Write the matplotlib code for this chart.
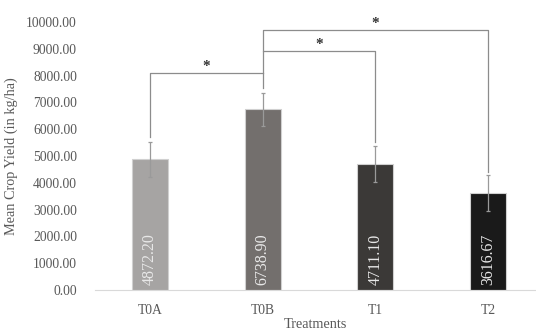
#!/usr/bin/env python

import matplotlib
matplotlib.use("Agg")
import matplotlib.pyplot as plt

treatments = ["T0A", "T0B", "T1", "T2"]
means = [4872.20, 6738.90, 4711.10, 3616.67]
errors = [665, 630, 665, 660]
colors = ["#a6a4a3", "#736f6d", "#3b3937", "#1a1a1a"]

# significance brackets: (left bar, right bar), height of bar line, leg ends
pairs = [(0, 1), (1, 2), (1, 3)]
bracket_y = [8100, 8920, 9720]
leg_bottom = [(5700, 8100), (7550, 5540), (8920, 4400)]

fontsize = 9.5
plt.rcParams["font.family"] = ["Liberation Serif", "DejaVu Serif"]

fig = plt.figure(figsize=(5.36, 3.29), dpi=100)
ax = fig.add_axes([95 / 536, 39 / 329, 441 / 536, (290 - 22) / 329])

x = list(range(len(treatments)))
ax.bar(x, means, width=0.32, color=colors, edgecolor="#d0d0d0", linewidth=0.8,
       zorder=2)
ax.errorbar(x, means, yerr=errors, fmt="none", ecolor="#9a9a9a",
            elinewidth=0.9, capsize=1.5, capthick=0.9, zorder=3)

for xi, m in zip(x, means):
    ax.text(xi, 180, "{:.2f}".format(m), rotation=90, ha="center", va="bottom",
            color="#e8e8e8", fontsize=fontsize + 2, zorder=4)

for (a, b), y, (la, lb) in zip(pairs, bracket_y, leg_bottom):
    ax.plot([a, a, b, b], [la, y, y, lb], color="#8c8c8c", linewidth=0.9,
            clip_on=False, zorder=1)
    ax.text((a + b) / 2, y - 20, "*", ha="center", va="bottom",
            fontsize=fontsize + 1.5, color="#333333", fontweight="bold")

ax.set_xlim(-0.488, 3.425)
ax.set_ylim(0, 10000)
ax.set_yticks(range(0, 10001, 1000))
ax.set_yticklabels(["{:.2f}".format(v) for v in range(0, 10001, 1000)])
ax.set_xticks(x)
ax.set_xticklabels(treatments)

for s in ["left", "right", "top"]:
    ax.spines[s].set_visible(False)
ax.spines["bottom"].set_color("#d9d9d9")
ax.tick_params(axis="both", length=0, labelsize=fontsize + 0.3, colors="#595959")
ax.tick_params(axis="y", pad=13)
ax.tick_params(axis="x", pad=10)

ax.set_ylabel("Mean Crop Yield (in kg/ha)", fontsize=fontsize + 0.8,
              color="#595959", labelpad=6)
ax.set_xlabel("Treatments", fontsize=fontsize + 0.8, color="#595959",
              labelpad=0.5)

plt.savefig("out.png", dpi=100)
